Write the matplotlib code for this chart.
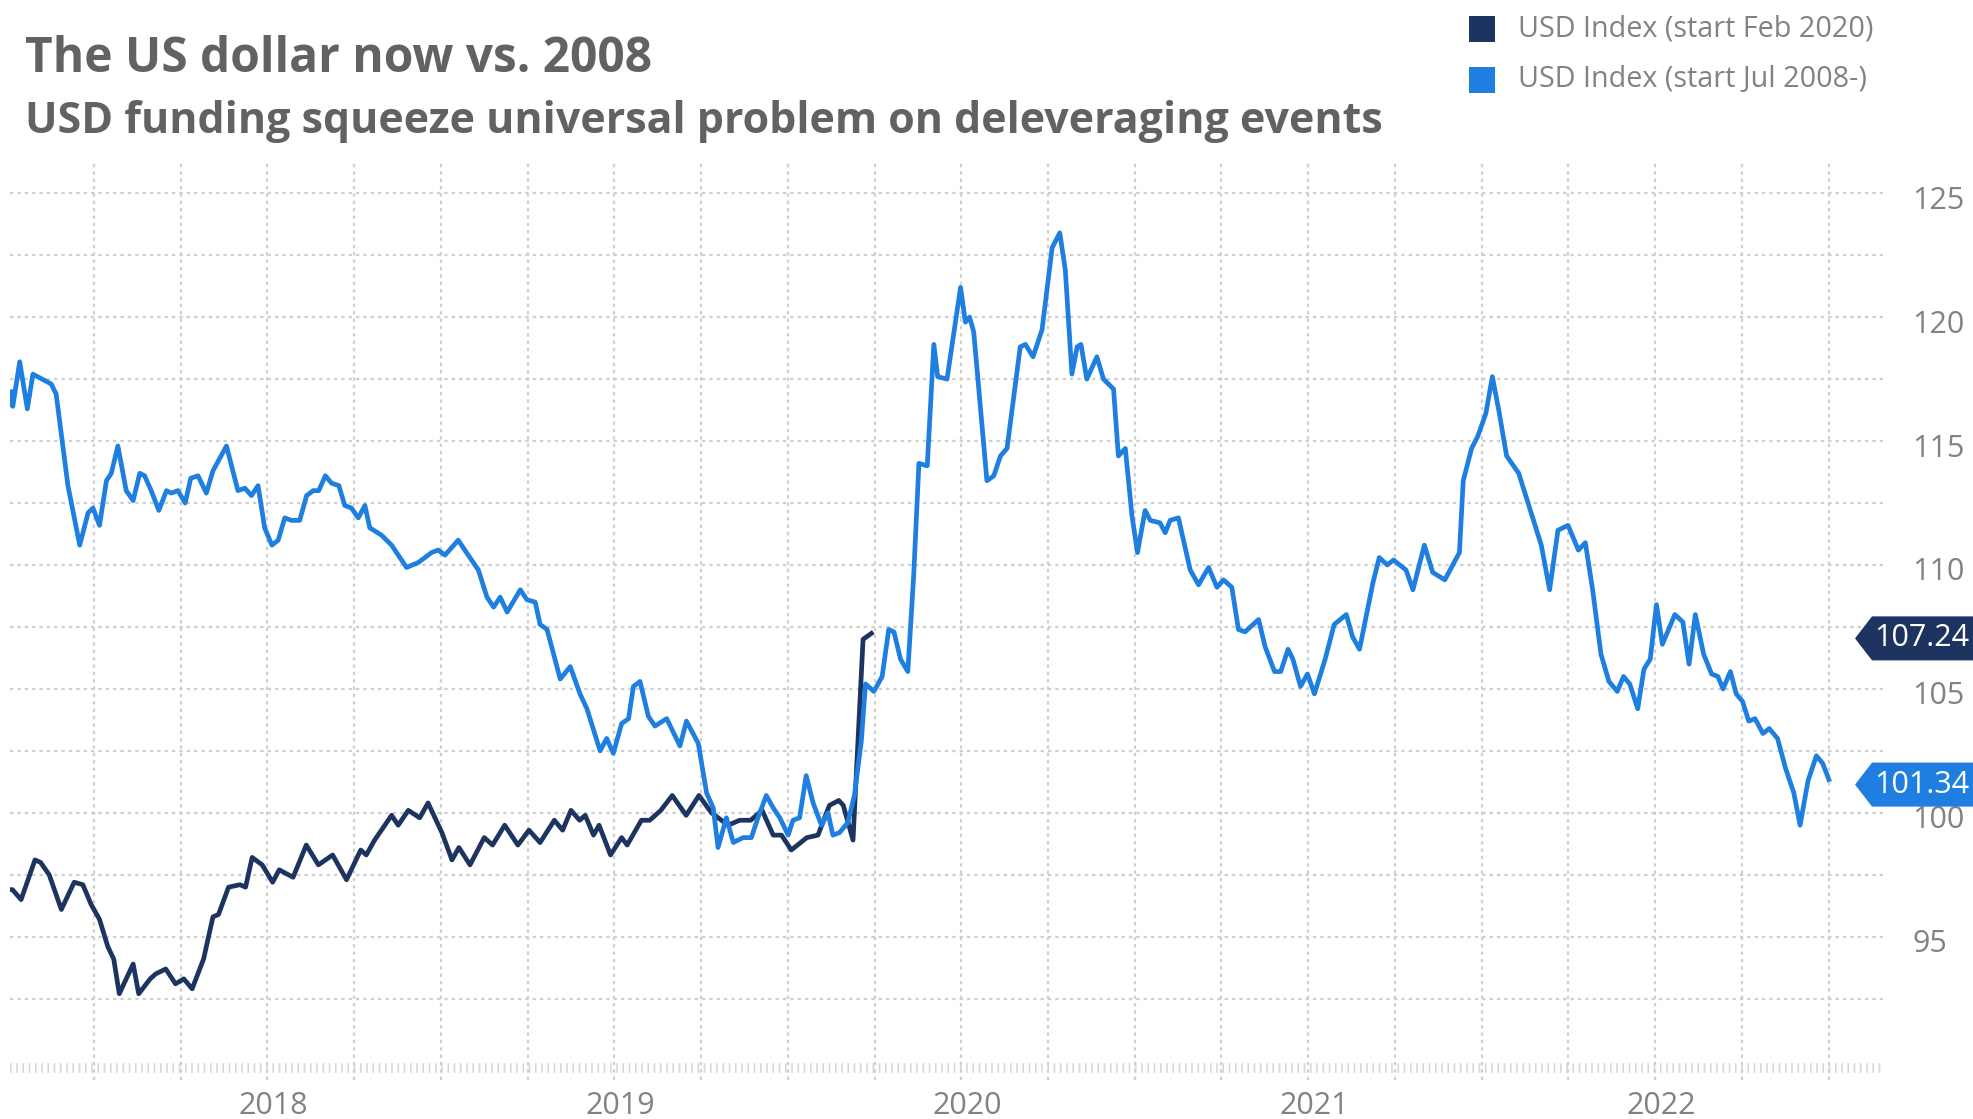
import numpy as np
import matplotlib.pyplot as plt
from matplotlib.lines import Line2D
from matplotlib.patches import Polygon
from matplotlib.transforms import IdentityTransform, ScaledTranslation

plt.rcParams['font.family'] = ['Open Sans', 'DejaVu Sans']
plt.rcParams['lines.scale_dashes'] = False

# time as decimal year
blue_t = [2017.257, 2017.262, 2017.266, 2017.286, 2017.308, 2017.324, 2017.377, 2017.391, 2017.425, 2017.459,
          2017.483, 2017.497, 2017.516, 2017.536, 2017.550, 2017.569, 2017.593, 2017.613, 2017.632, 2017.646,
          2017.665, 2017.687, 2017.709, 2017.723, 2017.742, 2017.763, 2017.779, 2017.800, 2017.824, 2017.843,
          2017.882, 2017.915, 2017.935, 2017.954, 2017.973, 2017.992, 2018.013, 2018.031, 2018.050, 2018.069,
          2018.093, 2018.113, 2018.132, 2018.148, 2018.167, 2018.185, 2018.206, 2018.223, 2018.242, 2018.262,
          2018.281, 2018.295, 2018.329, 2018.358, 2018.401, 2018.435, 2018.473, 2018.492, 2018.512, 2018.550,
          2018.569, 2018.608, 2018.633, 2018.652, 2018.671, 2018.691, 2018.729, 2018.748, 2018.772, 2018.786,
          2018.806, 2018.844, 2018.873, 2018.901, 2018.921, 2018.959, 2018.978, 2018.997, 2019.021, 2019.041,
          2019.055, 2019.074, 2019.098, 2019.117, 2019.151, 2019.189, 2019.208, 2019.242, 2019.266, 2019.285,
          2019.299, 2019.323, 2019.343, 2019.371, 2019.395, 2019.414, 2019.438, 2019.458, 2019.477, 2019.501,
          2019.515, 2019.534, 2019.553, 2019.573, 2019.597, 2019.616, 2019.630, 2019.649, 2019.673, 2019.692,
          2019.712, 2019.724, 2019.748, 2019.772, 2019.791, 2019.806, 2019.825, 2019.846, 2019.863, 2019.878,
          2019.902, 2019.921, 2019.932, 2019.959, 2019.998, 2020.012, 2020.024, 2020.036, 2020.074, 2020.094,
          2020.113, 2020.132, 2020.170, 2020.185, 2020.207, 2020.233, 2020.262, 2020.284, 2020.300, 2020.319,
          2020.334, 2020.345, 2020.362, 2020.391, 2020.410, 2020.439, 2020.453, 2020.473, 2020.492, 2020.508,
          2020.530, 2020.545, 2020.573, 2020.588, 2020.602, 2020.626, 2020.660, 2020.684, 2020.713, 2020.737,
          2020.756, 2020.780, 2020.799, 2020.818, 2020.857, 2020.876, 2020.903, 2020.921, 2020.942, 2020.956,
          2020.978, 2020.998, 2021.018, 2021.049, 2021.075, 2021.110, 2021.128, 2021.148, 2021.187, 2021.205,
          2021.228, 2021.246, 2021.282, 2021.302, 2021.335, 2021.359, 2021.394, 2021.436, 2021.447, 2021.471,
          2021.489, 2021.512, 2021.531, 2021.550, 2021.572, 2021.607, 2021.643, 2021.672, 2021.696, 2021.720,
          2021.749, 2021.779, 2021.799, 2021.820, 2021.844, 2021.867, 2021.891, 2021.909, 2021.927, 2021.950,
          2021.968, 2021.986, 2022.004, 2022.021, 2022.057, 2022.080, 2022.098, 2022.116, 2022.140, 2022.163,
          2022.181, 2022.196, 2022.217, 2022.234, 2022.252, 2022.270, 2022.288, 2022.311, 2022.329, 2022.353,
          2022.376, 2022.400, 2022.418, 2022.441, 2022.465, 2022.483, 2022.501]
blue_v = [116.5, 117.0, 116.4, 118.2, 116.3, 117.7, 117.3, 116.9, 113.2, 110.8,
          112.1, 112.3, 111.6, 113.4, 113.7, 114.8, 113.0, 112.6, 113.7, 113.6,
          113.0, 112.2, 113.0, 112.9, 113.0, 112.5, 113.5, 113.6, 112.9, 113.8,
          114.8, 113.0, 113.1, 112.8, 113.2, 111.5, 110.8, 111.0, 111.9, 111.8,
          111.8, 112.8, 113.0, 113.0, 113.6, 113.3, 113.2, 112.4, 112.3, 111.9,
          112.4, 111.5, 111.2, 110.8, 109.9, 110.1, 110.5, 110.6, 110.4, 111.0,
          110.6, 109.8, 108.7, 108.3, 108.7, 108.1, 109.0, 108.6, 108.5, 107.6,
          107.4, 105.4, 105.9, 104.8, 104.2, 102.5, 103.0, 102.4, 103.6, 103.8,
          105.1, 105.3, 103.9, 103.5, 103.8, 102.7, 103.7, 102.8, 100.8, 100.2,
          98.6, 99.8, 98.8, 99.0, 99.0, 99.8, 100.7, 100.2, 99.8, 99.1,
          99.7, 99.8, 101.5, 100.4, 99.5, 100.0, 99.1, 99.2, 99.6, 100.7,
          102.9, 105.2, 104.9, 105.5, 107.4, 107.3, 106.2, 105.7, 109.6, 114.1,
          114.0, 118.9, 117.6, 117.5, 121.2, 119.8, 120.0, 119.4, 113.4, 113.6,
          114.4, 114.7, 118.8, 118.9, 118.4, 119.5, 122.8, 123.4, 121.9, 117.7,
          118.8, 118.9, 117.5, 118.4, 117.5, 117.1, 114.4, 114.7, 112.0, 110.5,
          112.2, 111.8, 111.7, 111.3, 111.8, 111.9, 109.8, 109.2, 109.9, 109.1,
          109.4, 109.1, 107.4, 107.3, 107.8, 106.7, 105.7, 105.7, 106.6, 106.2,
          105.1, 105.6, 104.8, 106.2, 107.6, 108.0, 107.1, 106.6, 109.3, 110.3,
          110.0, 110.2, 109.8, 109.0, 110.8, 109.7, 109.4, 110.5, 113.4, 114.7,
          115.2, 116.1, 117.6, 116.2, 114.4, 113.7, 112.1, 110.8, 109.0, 111.4,
          111.6, 110.6, 110.9, 109.0, 106.4, 105.3, 104.9, 105.5, 105.2, 104.2,
          105.8, 106.2, 108.4, 106.8, 108.0, 107.7, 106.0, 108.0, 106.4, 105.6,
          105.5, 105.0, 105.7, 104.8, 104.5, 103.7, 103.8, 103.2, 103.4, 103.0,
          101.8, 100.8, 99.5, 101.3, 102.3, 102.0, 101.34]

dark_t = [2017.257, 2017.265, 2017.290, 2017.330, 2017.346, 2017.371, 2017.406, 2017.443, 2017.468, 2017.492,
          2017.516, 2017.540, 2017.557, 2017.573, 2017.613, 2017.629, 2017.662, 2017.678, 2017.707, 2017.735,
          2017.759, 2017.783, 2017.816, 2017.843, 2017.859, 2017.888, 2017.921, 2017.937, 2017.956, 2017.985,
          2018.015, 2018.034, 2018.074, 2018.112, 2018.147, 2018.188, 2018.228, 2018.269, 2018.285, 2018.309,
          2018.358, 2018.377, 2018.406, 2018.439, 2018.463, 2018.503, 2018.532, 2018.552, 2018.584, 2018.625,
          2018.649, 2018.684, 2018.722, 2018.754, 2018.786, 2018.827, 2018.851, 2018.875, 2018.900, 2018.916,
          2018.940, 2018.956, 2018.989, 2019.021, 2019.037, 2019.078, 2019.102, 2019.134, 2019.167, 2019.207,
          2019.244, 2019.280, 2019.328, 2019.361, 2019.393, 2019.426, 2019.458, 2019.482, 2019.510, 2019.555,
          2019.587, 2019.620, 2019.647, 2019.660, 2019.688, 2019.717, 2019.741]
dark_v = [96.9, 96.9, 96.5, 98.1, 98.0, 97.5, 96.1, 97.2, 97.1, 96.3,
          95.7, 94.6, 94.1, 92.7, 93.9, 92.7, 93.3, 93.5, 93.7, 93.1,
          93.3, 92.9, 94.1, 95.8, 95.9, 97.0, 97.1, 97.0, 98.2, 97.9,
          97.2, 97.7, 97.4, 98.7, 97.9, 98.3, 97.3, 98.5, 98.3, 98.9,
          99.9, 99.5, 100.1, 99.8, 100.4, 99.2, 98.1, 98.6, 97.9, 99.0,
          98.7, 99.5, 98.7, 99.3, 98.8, 99.7, 99.3, 100.1, 99.7, 99.9,
          99.1, 99.5, 98.3, 99.0, 98.7, 99.7, 99.7, 100.1, 100.7, 99.9,
          100.7, 100.0, 99.5, 99.7, 99.7, 100.1, 99.1, 99.1, 98.5, 99.0,
          99.1, 100.3, 100.5, 100.3, 98.9, 107.0, 107.24]

series_labels = ['USD Index (start Feb 2020)', 'USD Index (start Jul 2008-)']
year_ticks = [2018, 2019, 2020, 2021, 2022]
quarter_ticks = [2017.5, 2017.75, 2018.25, 2018.5, 2018.75, 2019.25, 2019.5, 2019.75,
                 2020.25, 2020.5, 2020.75, 2021.25, 2021.5, 2021.75, 2022.25, 2022.5]
value_ticks = [95, 100, 105, 110, 115, 120, 125]
half_ticks = [92.5, 97.5, 102.5, 107.5, 112.5, 117.5, 122.5]

BLUE = '#1f7fe0'
NAVY = '#1d3461'
GRID = '#cfcfcf'
TXT = '#828282'
HEAD = '#626262'

W, H = 1973, 1119
fig = plt.figure(figsize=(W / 100, H / 100), dpi=100)
fig.patch.set_facecolor('white')
ax = fig.add_axes([10 / W, 1 - 1080 / H, (1883 - 10) / W, (1080 - 161) / H])

ax.plot(dark_t, dark_v, color=NAVY, lw=3.4, solid_joinstyle='round', zorder=3)
ax.plot(blue_t, blue_v, color=BLUE, lw=3.4, solid_joinstyle='round', zorder=4)

ax.set_xticks(year_ticks)
ax.set_xticklabels([str(y) for y in year_ticks])
ax.set_xticks(quarter_ticks, minor=True)
ax.set_yticks(value_ticks)
ax.set_yticks(half_ticks, minor=True)
ax.yaxis.tick_right()

# limits after ticks so the tick setters cannot widen them
ax.set_xlim(2017.258, 2022.657)
ax.set_ylim(89.22, 126.3)

ax.tick_params(axis='both', which='both', length=0)
ax.tick_params(axis='x', labelsize=22, labelcolor=TXT, pad=8)
ax.tick_params(axis='y', labelsize=22, labelcolor=TXT, pad=21)
for lab in ax.get_yticklabels():
    lab.set_transform(lab.get_transform() + ScaledTranslation(0, -4 / 100, fig.dpi_scale_trans))
for lab in ax.get_xticklabels():
    lab.set_transform(lab.get_transform() + ScaledTranslation(6 / 100, 0, fig.dpi_scale_trans))

ax.grid(which='both', color=GRID, lw=1.6, linestyle=(0, (2.4, 2.9)), zorder=0)
for s in ax.spines.values():
    s.set_visible(False)

# dense tick band along the bottom axis
ax.axhline(89.7, color='#d6d6d6', lw=7, linestyle=(0, (1.1, 3.4)), zorder=1)

# last value flags on the right
for t, v, c in [(dark_t[-1], dark_v[-1], NAVY), (blue_t[-1], blue_v[-1], BLUE)]:
    y = ax.transData.transform((t, v))[1] - 5
    flag = Polygon([(1855, y), (1872, y + 22), (1990, y + 22), (1990, y - 22), (1872, y - 22)],
                   closed=True, facecolor=c, edgecolor='none', transform=IdentityTransform())
    fig.add_artist(flag)
    fig.text(1874 / W, y / H, f'{v:.2f}', color='white', fontsize=22, ha='left', va='center')

# titles
fig.text(25 / W, 1 - 72 / H, 'The US dollar now vs. 2008', fontsize=34.5, fontweight='bold',
         color=HEAD, va='baseline')
fig.text(25 / W, 1 - 133 / H, 'USD funding squeeze universal problem on deleveraging events',
         fontsize=31, fontweight='bold', color=HEAD, va='baseline')

# legend drawn by hand
for i, (lab, c) in enumerate(zip(series_labels, [NAVY, BLUE])):
    yy = 1 - (29 + 51 * i) / H
    fig.add_artist(Line2D([1482 / W], [yy], marker='s', markersize=18.5, markeredgewidth=0,
                          color=c, linestyle='none', transform=fig.transFigure))
    fig.text(1518 / W, yy, lab, fontsize=20.7, color=TXT, ha='left', va='center')

fig.savefig('out.png', dpi=100)
